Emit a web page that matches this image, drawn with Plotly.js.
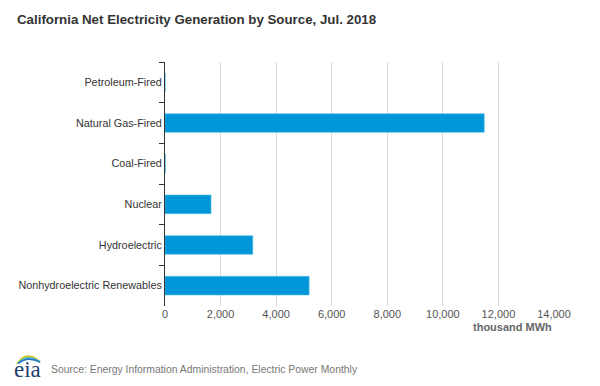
<!DOCTYPE html>
<html>
<head>
<meta charset="utf-8">
<script src="https://cdn.plot.ly/plotly-3.0.1.min.js"></script>
<style>html,body{margin:0;padding:0;background:#fff;}#chart{width:600px;height:386px;}</style>
</head>
<body>
<div id="chart"></div>
<script>
// Data (thousand MWh), California, July 2018
const categories = ["Petroleum-Fired", "Natural Gas-Fired", "Coal-Fired", "Nuclear", "Hydroelectric", "Nonhydroelectric Renewables"];
const generation = [4, 11490, 12, 1657, 3160, 5187];
const xTickValues = [0, 2000, 4000, 6000, 8000, 10000, 12000, 14000];
const xTickLabels = ["0", "2,000", "4,000", "6,000", "8,000", "10,000", "12,000", "14,000"];

// plot area in pixels
const L = 165, R = 554, T = 62, B = 306;
const px = x => (x - L) / (R - L);
const py = y => (B - y) / (B - T);

const font = "'Liberation Sans', Arial, sans-serif";

const trace = {
  type: "bar",
  orientation: "h",
  y: categories,
  x: generation,
  width: 0.46,
  marker: { color: "#0096d7", line: { color: "#5cc0ea", width: 0.6 } },
  hoverinfo: "x+y"
};

function arc(x0, y0, cx, cy, x1, y1) {
  return `M ${px(x0)} ${py(y0)} Q ${px(cx)} ${py(cy)} ${px(x1)} ${py(y1)}`;
}
const swooshColors = ["#f2c200", "#8cc63f", "#5fc3e8", "#1f78c1"];
const shapes = swooshColors.map((c, i) => ({
  type: "path", xref: "paper", yref: "paper",
  path: arc(17 + i * 0.5, 364 - i * 0.2, 27, 349 + i * 2.2, 40, 362),
  line: { color: c, width: 1.6 }
}));

const layout = {
  width: 600, height: 386,
  margin: { l: L, r: 600 - R, t: T, b: 386 - B, pad: 0 },
  paper_bgcolor: "#ffffff",
  plot_bgcolor: "#ffffff",
  showlegend: false,
  font: { family: font, size: 11, color: "#333" },
  title: {
    text: "<b>California Net Electricity Generation by Source, Jul. 2018</b>",
    font: { family: font, size: 13.3, color: "#333" },
    xref: "container", yref: "container",
    x: 17 / 600, xanchor: "left",
    y: 1 - 19 / 386, yanchor: "middle"
  },
  xaxis: {
    range: [0, 14000],
    tickvals: xTickValues,
    ticktext: xTickLabels,
    showgrid: true, gridcolor: "#d9d9d9", gridwidth: 1,
    zeroline: false, showline: false, ticks: "",
    tickfont: { family: font, size: 11, color: "#555" },
    fixedrange: true
  },
  yaxis: {
    type: "category",
    autorange: "reversed",
    showline: true, linecolor: "#333", linewidth: 1,
    ticks: "outside", tickson: "boundaries", ticklen: 5, tickcolor: "#333", tickwidth: 1,
    showgrid: false, zeroline: false,
    tickfont: { family: font, size: 10.8, color: "#333" },
    fixedrange: true
  },
  bargap: 0.54,
  shapes: shapes,
  annotations: [
    {
      text: "<b>thousand MWh</b>", xref: "paper", yref: "paper",
      x: 1, xanchor: "right", y: py(327), yanchor: "middle",
      showarrow: false, font: { family: font, size: 11, color: "#666" }
    },
    {
      text: "Source: Energy Information Administration, Electric Power Monthly",
      xref: "paper", yref: "paper",
      x: px(49), xanchor: "left", y: py(369), yanchor: "middle",
      showarrow: false, font: { family: font, size: 10.4, color: "#777" }
    },
    {
      text: "eia", xref: "paper", yref: "paper",
      x: px(27), xanchor: "center", y: py(369), yanchor: "middle",
      showarrow: false, font: { family: "'Liberation Serif', 'DejaVu Serif', serif", size: 23, color: "#1d3f6e" }
    }
  ]
};

Plotly.newPlot("chart", [trace], layout, { displayModeBar: false, staticPlot: true });
</script>
</body>
</html>
